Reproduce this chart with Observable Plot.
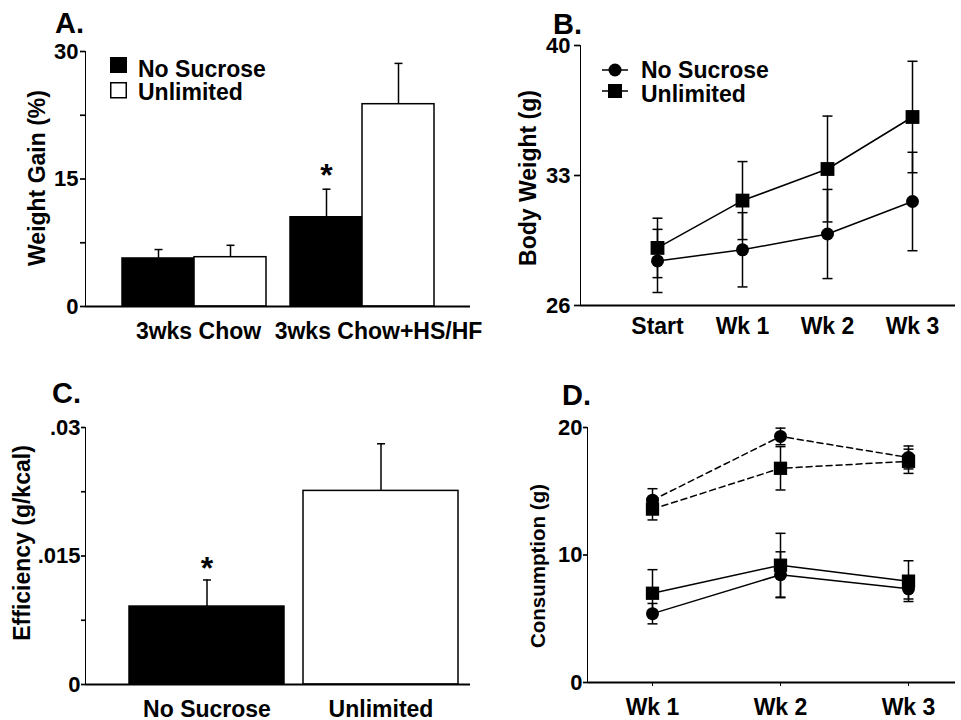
<!DOCTYPE html>
<html><head><meta charset="utf-8">
<script src="https://cdn.jsdelivr.net/npm/d3@7"></script>
<script src="https://cdn.jsdelivr.net/npm/@observablehq/plot@0.6"></script>
<style>
html,body{margin:0;padding:0;background:#fff;}
#root{position:relative;width:961px;height:720px;overflow:hidden;background:#fff;font-family:"Liberation Sans",Arial,sans-serif;font-weight:bold;}
.panel{position:absolute;}
.panel svg{overflow:visible;}
#root [aria-label^="x-axis"] text{font-size:23px;}
#root [aria-label^="y-axis"] text{font-size:22px;}
#root [aria-label^="y-axis"] path,#root [aria-label^="y-axis"] line{stroke-width:1.7px;}
#overlay{position:absolute;left:0;top:0;}
</style>
</head><body><div id="root"></div>
<script>
// ---------- Panel A: weight gain (%) ----------
const aCategories = ["3wks Chow", "3wks Chow+HS/HF"];
const aSeries = ["No Sucrose", "Unlimited"];
const aNoSucrose = [5.65, 10.5];
const aNoSucroseErr = [1.05, 3.3];
const aUnlimited = [5.8, 23.8];
const aUnlimitedErr = [1.4, 4.8];
const aSig = [false, true];
const aTicks = [0, 15, 30];
const aTickLabels = ["0", "15", "30"];
const aMinorTicks = [7.5, 22.5];
const aLabel = "Weight Gain (%)";

// ---------- Panel B: body weight (g) ----------
const bWeeks = ["Start", "Wk 1", "Wk 2", "Wk 3"];
const bSeries = ["No Sucrose", "Unlimited"];
const bNoSucrose = [28.4, 29.0, 29.85, 31.6];
const bNoSucroseErr = [1.7, 2.0, 2.4, 2.65];
const bUnlimited = [29.1, 31.65, 33.35, 36.15];
const bUnlimitedErr = [1.6, 2.1, 2.85, 3.0];
const bTicks = [26, 33, 40];
const bTickLabels = ["26", "33", "40"];
const bLabel = "Body Weight (g)";

// ---------- Panel C: efficiency (g/kcal) ----------
const cCategories = ["No Sucrose", "Unlimited"];
const cValues = [0.0091, 0.0226];
const cErr = [0.0031, 0.0055];
const cSig = [true, false];
const cTicks = [0, 0.015, 0.03];
const cTickLabels = ["0", ".015", ".03"];
const cMinorTicks = [0.0075, 0.0225];
const cLabel = "Efficiency (g/kcal)";

// ---------- Panel D: consumption (g) ----------
const dWeeks = ["Wk 1", "Wk 2", "Wk 3"];
const dDashedNoSucrose = [14.3, 19.3, 17.65];
const dDashedNoSucroseErr = [0.9, 0.65, 0.9];
const dDashedUnlimited = [13.6, 16.8, 17.35];
const dDashedUnlimitedErr = [0.85, 1.7, 0.95];
const dSolidNoSucrose = [5.4, 8.45, 7.35];
const dSolidNoSucroseErr = [0.8, 1.8, 0.8];
const dSolidUnlimited = [7.0, 9.2, 7.95];
const dSolidUnlimitedErr = [1.85, 2.5, 1.6];
const dTicks = [0, 10, 20];
const dTickLabels = ["0", "10", "20"];
const dLabel = "Consumption (g)";

const panelLetters = ["A.", "B.", "C.", "D."];

// ---------- helpers ----------
const FONT = '"Liberation Sans", Arial, sans-serif';
const baseStyle = {fontFamily: FONT, fontWeight: "bold", fontSize: "22px", color: "black", background: "transparent", overflow: "visible"};
const fmt = (ticks, labels) => d => { const i = ticks.findIndex(t => Math.abs(t - d) < 1e-9); return i < 0 ? "" : labels[i]; };
const capSmall = {draw(ctx) { ctx.moveTo(-4, 0); ctx.lineTo(4, 0); }};
const capLarge = {draw(ctx) { ctx.moveTo(-5, 0); ctx.lineTo(5, 0); }};
const root = document.getElementById("root");
function place(svg, left, top, w, h) {
  const div = document.createElement("div");
  div.className = "panel";
  div.style.left = left + "px"; div.style.top = top + "px";
  div.style.width = w + "px"; div.style.height = h + "px";
  div.appendChild(svg);
  root.appendChild(div);
}

// ---------- A ----------
{
  const pI = 0.143, pO = 0.217;
  const bw = d3.scaleBand().domain(aCategories).range([0, 385]).paddingInner(pI).paddingOuter(pO).bandwidth();
  const no = aCategories.map((c, i) => ({category: c, series: aSeries[0], value: aNoSucrose[i], hi: aNoSucrose[i] + aNoSucroseErr[i], sig: aSig[i]}));
  const un = aCategories.map((c, i) => ({category: c, series: aSeries[1], value: aUnlimited[i], hi: aUnlimited[i] + aUnlimitedErr[i]}));
  const labelStyle = {x: d => d, frameAnchor: "bottom", lineAnchor: "top", dy: 16, fontSize: 23, fill: "black"};
  const svg = Plot.plot({
    width: 480, height: 360, marginLeft: 85, marginRight: 10, marginTop: 51, marginBottom: 54,
    style: baseStyle,
    x: {domain: aCategories, paddingInner: pI, paddingOuter: pO, label: null, axis: null},
    y: {domain: [0, 30], ticks: [...aTicks, ...aMinorTicks].sort((a, b) => a - b), tickFormat: fmt(aTicks, aTickLabels), tickSize: 5, tickPadding: 2, label: null, line: true},
    marks: [
      Plot.barY(no, {x: "category", y: "value", fill: "black", stroke: "black", strokeWidth: 1.5, insetRight: bw / 2}),
      Plot.barY(un, {x: "category", y: "value", fill: "white", stroke: "black", strokeWidth: 1.5, insetLeft: bw / 2}),
      Plot.ruleX(no, {x: "category", y1: "value", y2: "hi", dx: -bw / 4, stroke: "black", strokeWidth: 1.5}),
      Plot.ruleX(un, {x: "category", y1: "value", y2: "hi", dx: bw / 4, stroke: "black", strokeWidth: 1.5}),
      Plot.dot(no, {x: "category", y: "hi", dx: -bw / 4, symbol: capSmall, fill: "none", stroke: "black", strokeWidth: 1.5}),
      Plot.dot(un, {x: "category", y: "hi", dx: bw / 4, symbol: capSmall, fill: "none", stroke: "black", strokeWidth: 1.5}),
      Plot.text(no.filter(d => d.sig), {x: "category", y: "hi", dx: -bw / 4, dy: -3, text: () => "*", fontSize: 32, lineAnchor: "bottom"}),
      Plot.ruleY([0], {stroke: "black", strokeWidth: 1.8}),
      Plot.text(aCategories.slice(0, 1), {...labelStyle, dx: 4}),
      Plot.text(aCategories.slice(1, 2), {...labelStyle, dx: 16})
    ]
  });
  place(svg, 0, 0, 480, 360);
}

// ---------- B ----------
{
  const rows = [];
  bWeeks.forEach((w, i) => {
    rows.push({week: w, series: bSeries[0], value: bNoSucrose[i], lo: bNoSucrose[i] - bNoSucroseErr[i], hi: bNoSucrose[i] + bNoSucroseErr[i]});
    rows.push({week: w, series: bSeries[1], value: bUnlimited[i], lo: bUnlimited[i] - bUnlimitedErr[i], hi: bUnlimited[i] + bUnlimitedErr[i]});
  });
  const svg = Plot.plot({
    width: 481, height: 360, marginLeft: 100, marginRight: 6, marginTop: 45, marginBottom: 55,
    style: baseStyle,
    x: {type: "point", domain: bWeeks, padding: 0.698, align: 0.64, label: null, tickSize: 0, tickPadding: 12},
    y: {domain: [26, 40], ticks: bTicks, tickFormat: fmt(bTicks, bTickLabels), tickSize: 6, tickPadding: 4, label: null, line: true},
    marks: [
      Plot.ruleY([26], {stroke: "black", strokeWidth: 1.8}),
      Plot.ruleX(rows, {x: "week", y1: "lo", y2: "hi", stroke: "black", strokeWidth: 1.5}),
      Plot.dot(rows, {x: "week", y: "lo", symbol: capLarge, fill: "none", stroke: "black", strokeWidth: 1.5}),
      Plot.dot(rows, {x: "week", y: "hi", symbol: capLarge, fill: "none", stroke: "black", strokeWidth: 1.5}),
      Plot.line(rows, {x: "week", y: "value", z: "series", stroke: "black", strokeWidth: 1.5}),
      Plot.dot(rows.filter(d => d.series === bSeries[0]), {x: "week", y: "value", symbol: "circle", r: 6.5, fill: "black"}),
      Plot.dot(rows.filter(d => d.series === bSeries[1]), {x: "week", y: "value", symbol: "square", r: 7.8, fill: "black"})
    ]
  });
  place(svg, 480, 0, 481, 360);
}

// ---------- C ----------
{
  const rows = cCategories.map((c, i) => ({category: c, value: cValues[i], hi: cValues[i] + cErr[i], sig: cSig[i]}));
  const svg = Plot.plot({
    width: 480, height: 360, marginLeft: 85, marginRight: 10, marginTop: 67, marginBottom: 36,
    style: baseStyle,
    x: {domain: cCategories, paddingInner: 0.112, paddingOuter: 0.159, align: 0.775, label: null, tickSize: 0, tickPadding: 16},
    y: {domain: [0, 0.03], ticks: [...cTicks, ...cMinorTicks].sort((a, b) => a - b), tickFormat: fmt(cTicks, cTickLabels), tickSize: 4, tickPadding: 1, label: null, line: true},
    marks: [
      Plot.barY(rows, {x: "category", y: "value", fill: (d, i) => i === 0 ? "black" : "white", stroke: "black", strokeWidth: 1.5}),
      Plot.ruleX(rows, {x: "category", y1: "value", y2: "hi", stroke: "black", strokeWidth: 1.5}),
      Plot.dot(rows, {x: "category", y: "hi", symbol: capSmall, fill: "none", stroke: "black", strokeWidth: 1.5}),
      Plot.text(rows.filter(d => d.sig), {x: "category", y: "hi", dy: -1, text: () => "*", fontSize: 32, lineAnchor: "bottom"}),
      Plot.ruleY([0], {stroke: "black", strokeWidth: 1.8})
    ]
  });
  place(svg, 0, 360, 480, 360);
}

// ---------- D ----------
{
  const mk = (measure, series, vals, errs) => dWeeks.map((w, i) => ({week: w, measure, series, value: vals[i], lo: vals[i] - errs[i], hi: vals[i] + errs[i]}));
  const rows = [
    ...mk("dashed", "No Sucrose", dDashedNoSucrose, dDashedNoSucroseErr),
    ...mk("dashed", "Unlimited", dDashedUnlimited, dDashedUnlimitedErr),
    ...mk("solid", "No Sucrose", dSolidNoSucrose, dSolidNoSucroseErr),
    ...mk("solid", "Unlimited", dSolidUnlimited, dSolidUnlimitedErr)
  ];
  const svg = Plot.plot({
    width: 481, height: 360, marginLeft: 107, marginRight: 6, marginTop: 67, marginBottom: 38,
    style: baseStyle,
    x: {type: "point", domain: dWeeks, padding: 0.4375, align: 0.58, label: null, tickSize: 4, tickPadding: 12},
    y: {domain: [0, 20], ticks: dTicks, tickFormat: fmt(dTicks, dTickLabels), tickSize: 4, tickPadding: 1, label: null, line: true},
    marks: [
      Plot.ruleY([0], {stroke: "black", strokeWidth: 1.8}),
      Plot.ruleX(rows, {x: "week", y1: "lo", y2: "hi", stroke: "black", strokeWidth: 1.5}),
      Plot.dot(rows, {x: "week", y: "lo", symbol: capLarge, fill: "none", stroke: "black", strokeWidth: 1.5}),
      Plot.dot(rows, {x: "week", y: "hi", symbol: capLarge, fill: "none", stroke: "black", strokeWidth: 1.5}),
      Plot.line(rows.filter(d => d.measure === "dashed"), {x: "week", y: "value", z: "series", stroke: "black", strokeWidth: 1.5, strokeDasharray: "6,4"}),
      Plot.line(rows.filter(d => d.measure === "solid"), {x: "week", y: "value", z: "series", stroke: "black", strokeWidth: 1.5}),
      Plot.dot(rows.filter(d => d.series === "No Sucrose"), {x: "week", y: "value", symbol: "circle", r: 6.5, fill: "black"}),
      Plot.dot(rows.filter(d => d.series === "Unlimited"), {x: "week", y: "value", symbol: "square", r: 7.5, fill: "black"})
    ]
  });
  place(svg, 480, 360, 481, 360);
}

// ---------- overlay: panel letters, axis titles, legends ----------
{
  const ns = "http://www.w3.org/2000/svg";
  const ov = document.createElementNS(ns, "svg");
  ov.setAttribute("id", "overlay");
  ov.setAttribute("width", 961); ov.setAttribute("height", 720);
  ov.setAttribute("font-family", FONT); ov.setAttribute("font-weight", "bold");
  const el = (tag, attrs, text) => { const e = document.createElementNS(ns, tag); for (const k in attrs) e.setAttribute(k, attrs[k]); if (text != null) e.textContent = text; ov.appendChild(e); return e; };
  [[55, 33], [553, 34], [52, 403], [562, 405]].forEach(([x, y], i) => el("text", {x, y, "font-size": 29}, panelLetters[i]));
  el("text", {transform: "translate(45,178) rotate(-90)", "text-anchor": "middle", "font-size": 23}, aLabel);
  el("text", {transform: "translate(536,178) rotate(-90)", "text-anchor": "middle", "font-size": 23}, bLabel);
  el("text", {transform: "translate(30,543) rotate(-90)", "text-anchor": "middle", "font-size": 23}, cLabel);
  el("text", {transform: "translate(545,566) rotate(-90)", "text-anchor": "middle", "font-size": 20.5}, dLabel);
  // legend A
  el("rect", {x: 110, y: 57, width: 17, height: 16, fill: "black"});
  el("rect", {x: 110.75, y: 82.75, width: 15.5, height: 15, fill: "white", stroke: "black", "stroke-width": 1.5});
  el("text", {x: 138, y: 77, "font-size": 23}, aSeries[0]);
  el("text", {x: 138, y: 100, "font-size": 23}, aSeries[1]);
  // legend B
  el("line", {x1: 602, x2: 628, y1: 70, y2: 70, stroke: "black", "stroke-width": 1.5});
  el("circle", {cx: 615, cy: 70, r: 6.5, fill: "black"});
  el("line", {x1: 602, x2: 628, y1: 91, y2: 91, stroke: "black", "stroke-width": 1.5});
  el("rect", {x: 608, y: 84, width: 14, height: 14, fill: "black"});
  el("text", {x: 641, y: 78, "font-size": 23}, bSeries[0]);
  el("text", {x: 641, y: 102, "font-size": 23}, bSeries[1]);
  root.appendChild(ov);
}
</script></body></html>
